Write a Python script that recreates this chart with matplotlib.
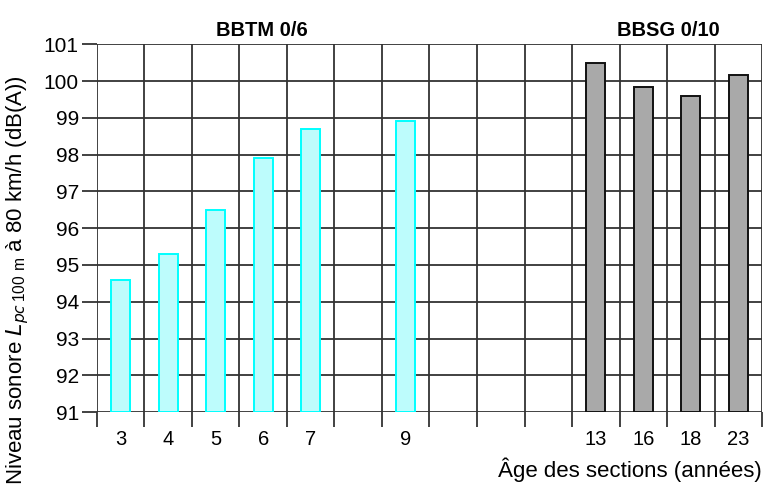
import numpy as np
import matplotlib.pyplot as plt

plt.rcParams['font.family'] = ['Liberation Sans', 'DejaVu Sans']

# slots along the x axis (blank = empty column)
slots = ["3", "4", "5", "6", "7", "", "9", "", "", "", "13", "16", "18", "23"]
levels = [94.6, 95.3, 96.5, 97.9, 98.7, np.nan, 98.9, np.nan, np.nan, np.nan,
          100.5, 99.85, 99.6, 100.15]
surface = ["BBTM", "BBTM", "BBTM", "BBTM", "BBTM", "", "BBTM", "", "", "",
           "BBSG", "BBSG", "BBSG", "BBSG"]
groups = ["BBTM 0/6", "BBSG 0/10"]

y_min, y_max = 91, 101
styles = {"BBTM": dict(color="#bdfcfc", edgecolor="#00ffff"),
          "BBSG": dict(color="#a9a9a9", edgecolor="#111111")}

fig = plt.figure(figsize=(7.69, 4.86), dpi=100)
ax = fig.add_axes([0.126, 0.152, 0.865, 0.757])

x = np.arange(len(slots))
for xi, v, s in zip(x, levels, surface):
    if np.isnan(v):
        continue
    ax.bar(xi, v - y_min, bottom=y_min, width=0.4, linewidth=1.4,
           zorder=3, **styles[s])

ax.set_xlim(-0.5, len(slots) - 0.5)
ax.set_ylim(y_min, y_max)

# grid: vertical lines at slot boundaries, horizontal at each dB
for b in np.arange(-0.5, len(slots), 1.0):
    ax.axvline(b, color="#333333", lw=1.3, zorder=1)
for yv in range(y_min, y_max + 1):
    ax.axhline(yv, color="#333333", lw=1.3, zorder=1)

ax.set_xticks(np.arange(-0.5, len(slots), 1.0))
ax.set_xticklabels([])
ax.tick_params(axis="x", which="major", length=11, width=1.3, color="#333333")
ax.set_xticks(x, minor=True)
ax.set_xticklabels(slots, minor=True, fontsize=14.5)
ax.tick_params(axis="x", which="minor", length=0, pad=13)

ax.set_yticks(range(y_min, y_max + 1))
ax.tick_params(axis="y", length=11, width=1.3, color="#333333", labelsize=15, pad=2)

for sp in ax.spines.values():
    sp.set_visible(False)

ax.set_ylabel("Niveau sonore $L_{pc\\,\\mathregular{100\\ m}}$ à 80 km/h (dB(A))",
              fontsize=16)
ax.yaxis.set_label_coords(-0.099, 0.36)
fig.text(0.99, 0.018, "Âge des sections (années)", ha="right", fontsize=16)

fig.text(0.341, 0.925, groups[0], ha="center", fontsize=14.5, fontweight="bold")
fig.text(0.869, 0.925, groups[1], ha="center", fontsize=14.5, fontweight="bold")

plt.savefig("out.png", dpi=100)
